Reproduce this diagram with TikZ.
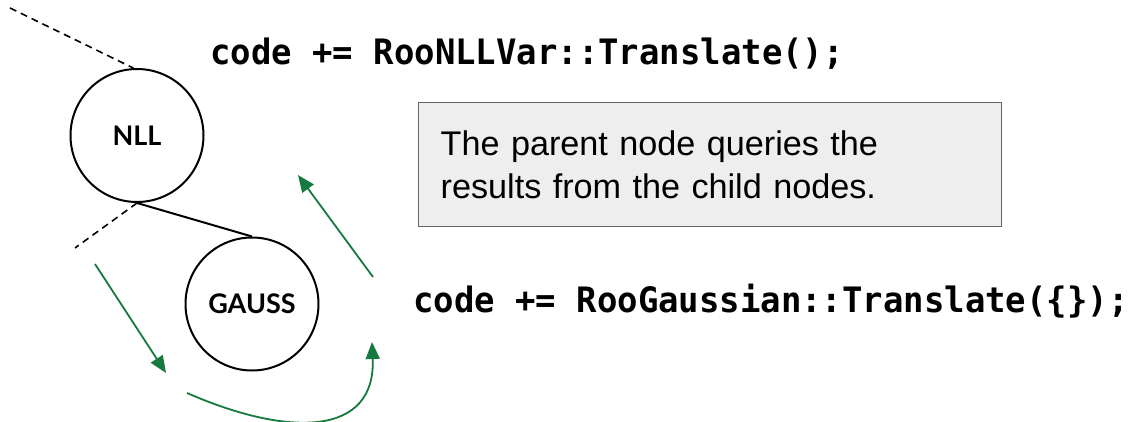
\documentclass[tikz,border=0pt]{standalone}
\usepackage{fontspec}
\setmainfont{Liberation Sans}
\newfontfamily\codefont[FakeStretch=0.97]{DejaVu Sans Mono}
\newfontfamily\lblfont{Lato}
\usetikzlibrary{arrows.meta}
\definecolor{arrgreen}{RGB}{22,122,62}
\definecolor{boxfill}{RGB}{238,238,238}
\definecolor{boxline}{RGB}{100,100,100}
\tikzset{
  treenode/.style={circle,draw=black,line width=2pt,minimum size=133pt,inner sep=0pt,
    font=\lblfont\bfseries\fontsize{27}{30}\selectfont},
  codetext/.style={anchor=base west,inner sep=0pt,font=\codefont\bfseries\fontsize{35}{40}\selectfont},
  flow/.style={draw=arrgreen,line width=1.8pt,-{Triangle[length=17pt,width=14pt]}},
  dashedlink/.style={draw=black,line width=1.6pt,dash pattern=on 7pt off 5pt},
  infobox/.style={draw=boxline,fill=boxfill,line width=1.4pt,anchor=north west,
    minimum width=583pt,minimum height=124pt,text width=539pt,inner xsep=21pt,align=left,
    font=\fontsize{34.2}{43}\selectfont}
}
\begin{document}
\begin{tikzpicture}[x=1pt,y=-1pt]
\useasboundingbox (0,0) rectangle (1134,422);
\node[treenode] (nll) at (137,135.5) {NLL};
\node[treenode] (gauss) at (252,304) {GAUSS};
\node[codetext] (code1) at (210,65) {code += RooNLLVar::Translate();};
\node[codetext] (code2) at (413,312) {code += RooGaussian::Translate(\{\});};
\node[infobox] (box) at (418,102) {The parent node queries the\\results from the child nodes.};
\coordinate (dtop) at (10,8);
\coordinate (dbot) at (75,248);
\coordinate (a1s) at (95,264);
\coordinate (a1e) at (166,373);
\coordinate (cs) at (187,393);
\coordinate (ce) at (372,342);
\coordinate (a2s) at (373,277);
\coordinate (a2e) at (298,175);
\draw[dashedlink] (dtop) -- (nll.93);
\draw[dashedlink] (nll.south) -- (dbot);
\draw[line width=2pt] (nll.south) -- (gauss.north);
\draw[flow] (a1s) -- (a1e);
\draw[flow] (cs) .. controls (290,438) and (376,436) .. (ce);
\draw[flow] (a2s) -- (a2e);
\end{tikzpicture}
\end{document}
